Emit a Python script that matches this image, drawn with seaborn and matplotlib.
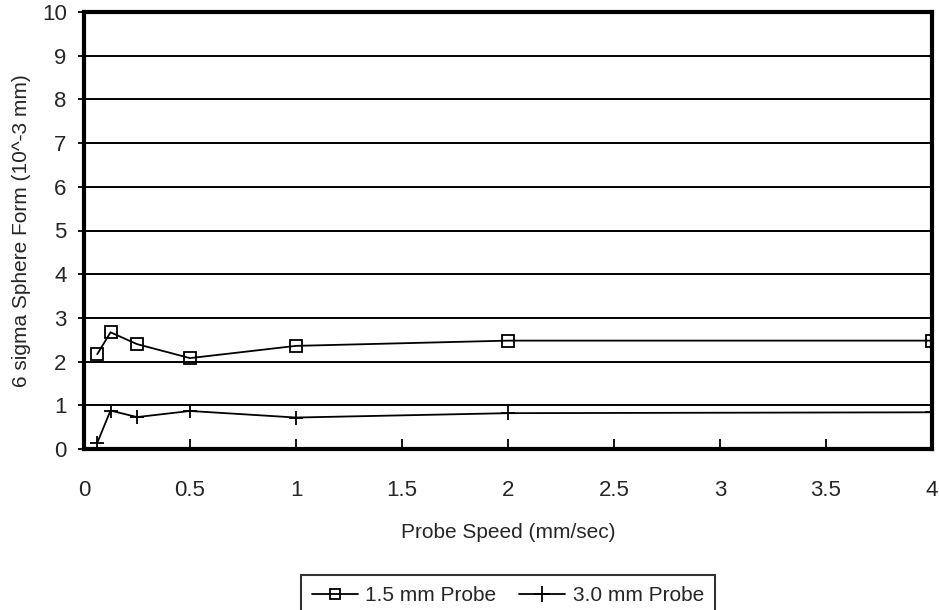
import matplotlib
matplotlib.use("Agg")
import matplotlib.pyplot as plt
import seaborn as sns
import pandas as pd
from matplotlib.lines import Line2D

speeds = [0.0625, 0.125, 0.25, 0.5, 1, 2, 4]
probe_15 = [2.17, 2.67, 2.40, 2.08, 2.36, 2.48, 2.48]
probe_30 = [0.14, 0.88, 0.73, 0.87, 0.72, 0.82, 0.84]
series_names = ["1.5 mm Probe", "3.0 mm Probe"]
x_ticks = [0, 0.5, 1, 1.5, 2, 2.5, 3, 3.5, 4]
y_ticks = list(range(0, 11))

df15 = pd.DataFrame({"speed": speeds, "value": probe_15})
df30 = pd.DataFrame({"speed": speeds, "value": probe_30})

sns.set_style("white")
plt.rcParams["font.family"] = ["Liberation Sans", "DejaVu Sans"]

fig = plt.figure(figsize=(9.39, 6.10), dpi=100)
ax = fig.add_axes([84 / 939, 1 - 449 / 610, (932 - 84) / 939, (449 - 12) / 610])

for y in y_ticks[1:-1]:
    ax.axhline(y, color="black", lw=1.4, zorder=1)

sns.lineplot(data=df15, x="speed", y="value", marker="s", color="black", lw=1.3, ax=ax, zorder=3,
             markersize=8.5, markerfacecolor="none", markeredgecolor="black", markeredgewidth=1.3)
sns.lineplot(data=df30, x="speed", y="value", marker="+", color="black", lw=1.3, ax=ax, zorder=3,
             markersize=10, markeredgecolor="black", markeredgewidth=1.3)

ax.set_xlim(0, 4)
ax.set_ylim(0, 10)
ax.set_xticks(x_ticks)
ax.set_xticklabels([f"{t:g}" for t in x_ticks], fontsize=16)
ax.set_yticks(y_ticks)
ax.set_yticklabels([str(t) for t in y_ticks], fontsize=16)
ax.tick_params(axis="x", direction="in", length=7, width=1.3, color="black", pad=22, bottom=True)
ax.tick_params(axis="y", direction="out", length=4.5, width=1.3, color="black", pad=8, left=True)
for s in ax.spines.values():
    s.set_visible(True)
    s.set_color("black")
    s.set_linewidth(3)

ax.set_xlabel("Probe Speed (mm/sec)", fontsize=15, labelpad=16)
ax.set_ylabel("6 sigma Sphere Form (10^-3 mm)", fontsize=15, labelpad=8)

handles = [
    Line2D([], [], color="black", lw=1.3, marker="s", markersize=7, markerfacecolor="none", markeredgewidth=1.3),
    Line2D([], [], color="black", lw=1.3, marker="+", markersize=12, markeredgewidth=1.3),
]
leg = fig.legend(handles, series_names, loc="upper center", bbox_to_anchor=(508 / 939, 1 - 575 / 610), ncol=2,
                 frameon=True, fancybox=False, edgecolor="black", fontsize=15, handlelength=2.2,
                 handletextpad=0.35, columnspacing=1.1, borderpad=0.55, borderaxespad=0)
leg.get_frame().set_linewidth(1.5)

fig.savefig("out.png", dpi=100)
